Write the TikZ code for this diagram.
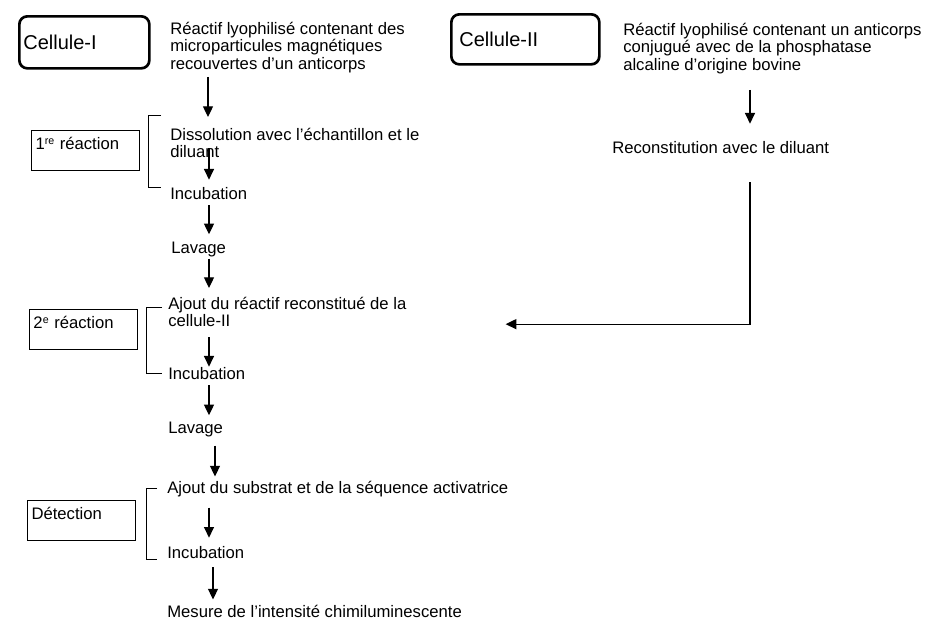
\documentclass[tikz,border=0pt]{standalone}
\usepackage{fontspec}
\setmainfont{Liberation Sans}
\usetikzlibrary{arrows.meta, calc}
\newcommand{\diagfont}{\fontsize{12.5}{13}\selectfont}
\newcommand{\cellfont}{\fontsize{15}{17}\selectfont}
\tikzset{
  txt/.style={inner sep=0pt, font=\diagfont, align=left},
  cell/.style={draw, line width=2pt, rounded corners=6pt, anchor=north west, font=\cellfont, align=left, inner xsep=3pt},
  phase/.style={draw, line width=0.75pt, anchor=north west, font=\diagfont, align=left, inner xsep=3pt, inner ysep=0pt, text width=75pt, text height=14pt, text depth=16pt},
  flow/.style={-{Triangle[length=8pt,width=7.5pt]}, line width=0.9pt}
}

\begin{document}
\begin{tikzpicture}[x=0.75pt, y=-0.75pt]
    \useasboundingbox (0,0) rectangle (928,619);
    \coordinate (axis) at (209,0);
    \coordinate (axisII) at (750,0);

    \node[cell, text width=91.5pt, minimum height=39pt] (cellI) at (18,15) {Cellule-I};
    \node[cell, inner xsep=6pt, text width=99pt, minimum height=37.5pt] (cellII) at (450,13) {Cellule-II};
    \node[txt, anchor=north west] (reacI) at (170,22) {Réactif lyophilisé contenant des\\microparticules magnétiques\\recouvertes d’un anticorps};
    \node[txt, anchor=north west] (reacII) at (623,23) {Réactif lyophilisé contenant un anticorps\\conjugué avec de la phosphatase\\alcaline d’origine bovine};
    \node[txt, anchor=base west] (recon) at (612,153) {Reconstitution avec le diluant};

    \node[phase] (phaseI) at (31,130) {1{\fontsize{8}{8}\selectfont\raisebox{3.5pt}{re}} réaction};
    \node[phase] (phaseII) at (29,309) {2{\fontsize{8}{8}\selectfont\raisebox{3.5pt}{e}} réaction};
    \node[phase] (phaseIII) at (27,500) {Détection};

    \node[txt, anchor=north west] (dissol) at (170,128) {Dissolution avec l’échantillon et le\\diluant};
    \node[txt, anchor=base west] (incI) at (170,199) {Incubation};
    \node[txt, anchor=base west] (lavI) at (171,253) {Lavage};
    \node[txt, anchor=north west] (ajoutI) at (168,297) {Ajout du réactif reconstitué de la\\cellule-II};
    \node[txt, anchor=base west] (incII) at (168,379) {Incubation};
    \node[txt, anchor=base west] (lavII) at (168,433) {Lavage};
    \node[txt, anchor=base west] (ajoutII) at (167,493) {Ajout du substrat et de la séquence activatrice};
    \node[txt, anchor=base west] (incIII) at (167,558) {Incubation};
    \node[txt, anchor=base west] (mesure) at (167,617) {Mesure de l’intensité chimiluminescente};

    \draw[line width=0.75pt] (161,115) -| (148,187) -- (161,187);
    \draw[line width=0.75pt] (162,307) -| (146,373) -- (162,373);
    \draw[line width=0.75pt] (157,488) -| (146,559) -- (157,559);

    \draw[flow] ($(reacI.south -| axis)+(-1,4)$) -- ($(dissol.north -| axis)+(-1,-11)$);
    \draw[flow] ($(dissol.south -| axis)+(0,-10)$) -- ($(incI.north -| axis)+(0,-7)$);
    \draw[flow] ($(incI.south -| axis)+(0,6)$) -- ($(lavI.north -| axis)+(0,-7)$);
    \draw[flow] ($(lavI.south -| axis)+(0,2)$) -- ($(ajoutI.north -| axis)+(0,-9)$);
    \draw[flow] ($(ajoutI.south -| axis)+(0,10)$) -- (incII.north -| axis);
    \draw[flow] ($(incII.south -| axis)+(0,6)$) -- ($(lavII.north -| axis)+(0,-6)$);
    \draw[flow] ($(lavII.south -| axis)+(6,9)$) -- ($(ajoutII.north -| axis)+(6,-4)$);
    \draw[flow] ($(ajoutII.south -| axis)+(0,11)$) -- ($(incIII.north -| axis)+(0,-8)$);
    \draw[flow] ($(incIII.south -| axis)+(4,9)$) -- ($(mesure.north -| axis)+(4,-5)$);
    \draw[flow] ($(reacII.south -| axisII)+(0,16)$) -- ($(recon.north -| axisII)+(0,-17)$);
    \draw[flow] ($(recon.south -| axisII)+(0,29)$) |- ($(ajoutI.east)+(99,12)$);
\end{tikzpicture}
\end{document}
